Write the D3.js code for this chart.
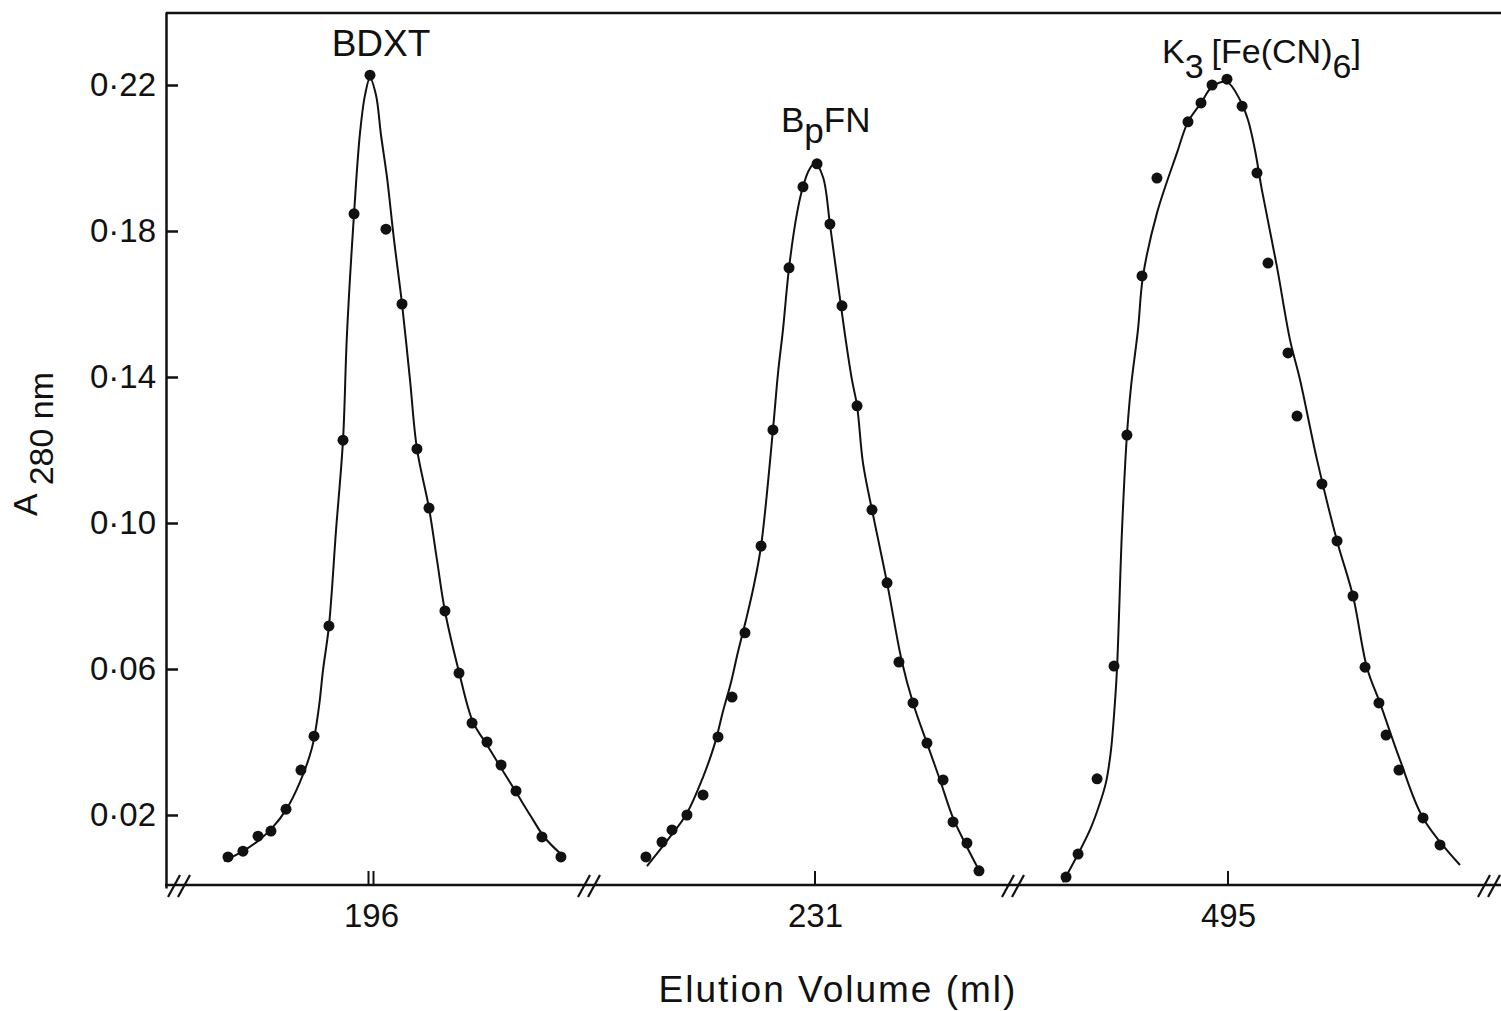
<!DOCTYPE html>
<html><head><meta charset="utf-8">
<script src="https://cdn.jsdelivr.net/npm/d3@7"></script>
<style>
body{margin:0;background:#fff;}
svg{display:block;}
text{fill:#111;}
.narrow{font-family:'Liberation Sans Narrow','Liberation Sans',Arial,sans-serif;}
.regular{font-family:'Liberation Sans',Arial,sans-serif;}
</style></head><body>
<svg id="chart" width="1501" height="1011"></svg>
<script>
// ---------------- data ----------------
const peakNames = ["BDXT", "BpFN", "K3[Fe(CN)6]"];
const peakVolumes = [196, 231, 495];           // x tick values (ml) of each broken-axis segment
const peakTickMarks = [2, 1, 1];               // number of tick strokes at each tick

const yTickValues = [0.02, 0.06, 0.10, 0.14, 0.18, 0.22];
const yTickLabels = ["0·02", "0·06", "0·10", "0·14", "0·18", "0·22"];

const xTitle = "Elution  Volume (ml)";
const yTitleMain = "A";
const yTitleSub = "280 nm";

// measured points [elution volume ml, A280]
const bdxtPoints = [[186.14,0.0085],[187.17,0.0101],[188.21,0.0142],[189.10,0.0156],[190.14,0.0216],[191.17,0.0323],[192.07,0.0416],[193.10,0.0718],[194.07,0.1227],[194.83,0.1847],[195.93,0.2227],[197.03,0.1805],[198.14,0.1600],[199.17,0.1203],[200.00,0.1041],[201.10,0.0759],[202.07,0.0589],[202.97,0.0452],[204.00,0.0400],[204.97,0.0337],[206.00,0.0266],[207.79,0.0140],[209.10,0.0085]];
const bpfnPoints = [[219.34,0.0085],[220.45,0.0126],[221.14,0.0159],[222.17,0.0200],[223.28,0.0255],[224.31,0.0414],[225.28,0.0523],[226.17,0.0699],[227.28,0.0937],[228.10,0.1255],[229.21,0.1699],[230.17,0.1921],[231.14,0.1984],[232.03,0.1819],[232.86,0.1595],[233.90,0.1321],[234.93,0.1036],[235.97,0.0836],[236.79,0.0619],[237.76,0.0507],[238.72,0.0397],[239.83,0.0296],[240.52,0.0181],[241.48,0.0123],[242.31,0.0047]];
const k3Points = [[483.83,0.0030],[484.66,0.0093],[485.97,0.0299],[487.14,0.0608],[488.03,0.1241],[489.07,0.1677],[490.10,0.1945],[492.24,0.2099],[493.14,0.2151],[493.90,0.2200],[494.93,0.2216],[495.97,0.2142],[497.00,0.1959],[497.76,0.1712],[499.14,0.1466],[499.76,0.1293],[501.48,0.1107],[502.52,0.0951],[503.62,0.0800],[504.45,0.0605],[505.41,0.0507],[505.90,0.0419],[506.79,0.0323],[508.45,0.0192],[509.62,0.0118]];

// hand-drawn smooth curves [ml, A280]
const bdxtCurve = [[185.86,0.0074],[187.17,0.0101],[188.21,0.0129],[189.17,0.0164],[190.14,0.0214],[191.10,0.0290],[191.93,0.0384],[192.41,0.0496],[192.69,0.0597],[193.10,0.0718],[193.59,0.0981],[194.07,0.1227],[194.34,0.1515],[194.83,0.1847],[195.24,0.2068],[195.59,0.2173],[195.93,0.2219],[196.34,0.2173],[196.69,0.2063],[197.10,0.1948],[197.59,0.1775],[198.14,0.1600],[198.69,0.1392],[199.17,0.1203],[200.00,0.1041],[200.55,0.0899],[201.10,0.0759],[202.07,0.0592],[203.03,0.0455],[204.00,0.0392],[204.97,0.0329],[206.00,0.0263],[206.97,0.0200],[208.00,0.0137],[209.24,0.0088]];
const bpfnCurve = [[219.41,0.0060],[221.00,0.0140],[222.17,0.0205],[223.28,0.0304],[224.10,0.0397],[224.66,0.0485],[225.21,0.0564],[225.69,0.0647],[226.24,0.0734],[226.79,0.0830],[227.28,0.0937],[228.10,0.1255],[228.45,0.1411],[228.79,0.1529],[229.21,0.1699],[229.76,0.1849],[230.17,0.1921],[230.59,0.1967],[231.00,0.1986],[231.55,0.1948],[232.03,0.1819],[232.52,0.1674],[233.07,0.1515],[233.55,0.1392],[233.90,0.1321],[234.31,0.1164],[234.93,0.1036],[235.97,0.0836],[237.00,0.0619],[237.76,0.0507],[238.72,0.0397],[239.62,0.0296],[240.52,0.0192],[241.41,0.0118],[242.31,0.0049]];
const k3Curve = [[483.62,0.0016],[484.66,0.0093],[485.48,0.0159],[486.17,0.0233],[486.59,0.0290],[486.93,0.0378],[487.14,0.0474],[487.34,0.0597],[487.69,0.0981],[488.03,0.1241],[488.31,0.1373],[488.79,0.1529],[489.14,0.1677],[490.10,0.1849],[491.48,0.2014],[492.24,0.2099],[493.14,0.2151],[493.90,0.2195],[494.93,0.2208],[495.83,0.2159],[496.38,0.2104],[496.86,0.2022],[497.34,0.1912],[498.38,0.1701],[499.28,0.1501],[499.97,0.1392],[501.14,0.1173],[502.52,0.0951],[503.62,0.0800],[504.59,0.0603],[505.48,0.0507],[506.86,0.0351],[508.45,0.0192],[511.00,0.0063]];

const seriesPoints = [bdxtPoints, bpfnPoints, k3Points];
const seriesCurves = [bdxtCurve, bpfnCurve, k3Curve];

// ---------------- layout ----------------
const ink = "#111";
const W = 1501;
const left = 166, topY = 13, baseY = 885;
const segCenterPx = [371, 815, 1228];
const halfSpanMl = 10, halfSpanPx = 145;
const breakPx = [168, 578, 1002, 1478];

const svg = d3.select("#chart");
const y = d3.scaleLinear().domain([0, 0.24]).range([888, 12]);
const xScales = peakVolumes.map((v, i) =>
  d3.scaleLinear().domain([v - halfSpanMl, v + halfSpanMl])
    .range([segCenterPx[i] - halfSpanPx, segCenterPx[i] + halfSpanPx]));

// frame: top line and bottom (broken) axis line
svg.append("line").attr("x1", left).attr("x2", W).attr("y1", topY).attr("y2", topY)
  .attr("stroke", ink).attr("stroke-width", 2.5);
svg.append("line").attr("x1", left - 1).attr("x2", W).attr("y1", baseY).attr("y2", baseY)
  .attr("stroke", ink).attr("stroke-width", 2.5);

// axis break marks
breakPx.forEach(bx => {
  [0, 10].forEach(off => {
    svg.append("line")
      .attr("x1", bx + off).attr("y1", baseY + 12)
      .attr("x2", bx + off + 12).attr("y2", baseY - 10)
      .attr("stroke", ink).attr("stroke-width", 2.2);
  });
});

// y axis
const yAxis = d3.axisLeft(y).tickValues(yTickValues)
  .tickFormat((d, i) => yTickLabels[i])
  .tickSizeInner(-12).tickSizeOuter(0).tickPadding(10);
const gy = svg.append("g").attr("transform", `translate(${left},0)`).call(yAxis);
gy.select(".domain").attr("stroke", ink).attr("stroke-width", 2.5);
gy.selectAll(".tick line").attr("stroke", ink).attr("stroke-width", 2.5);
gy.selectAll(".tick text").attr("class", "narrow").attr("font-size", 33).attr("fill", ink);

// x axes (one per segment)
peakVolumes.forEach((v, i) => {
  const ax = d3.axisBottom(xScales[i]).tickValues([v]).tickFormat(d3.format("d"))
    .tickSizeInner(0).tickSizeOuter(0).tickPadding(19);
  const g = svg.append("g").attr("transform", `translate(0,${baseY})`).call(ax);
  g.select(".domain").remove();
  g.selectAll(".tick line").remove();
  g.selectAll(".tick text").attr("class", "narrow").attr("font-size", 33).attr("fill", ink);
  const n = peakTickMarks[i];
  for (let k = 0; k < n; k++) {
    const off = (k - (n - 1) / 2) * 5;
    svg.append("line")
      .attr("x1", xScales[i](v) + off).attr("x2", xScales[i](v) + off)
      .attr("y1", baseY).attr("y2", baseY - 14)
      .attr("stroke", ink).attr("stroke-width", 2);
  }
});

// curves and points
const lineGen = (sc) => d3.line().x(d => sc(d[0])).y(d => y(d[1])).curve(d3.curveCatmullRom.alpha(0.5));
seriesCurves.forEach((c, i) => {
  svg.append("path").datum(c).attr("d", lineGen(xScales[i]))
    .attr("fill", "none").attr("stroke", ink).attr("stroke-width", 2);
});
seriesPoints.forEach((pts, i) => {
  svg.append("g").selectAll("circle").data(pts).join("circle")
    .attr("cx", d => xScales[i](d[0])).attr("cy", d => y(d[1])).attr("r", 5.5).attr("fill", ink);
});

// peak labels
svg.append("text").attr("class", "narrow").attr("font-size", 37)
  .attr("x", 381).attr("y", 56).attr("text-anchor", "middle").text(peakNames[0]);

const t2 = svg.append("text").attr("class", "narrow").attr("font-size", 35).attr("x", 781).attr("y", 132);
t2.append("tspan").text("B");
t2.append("tspan").attr("dy", 11).text("p");
t2.append("tspan").attr("dy", -11).text("FN");

const t3 = svg.append("text").attr("class", "narrow").attr("font-size", 34).attr("x", 1162).attr("y", 63);
t3.append("tspan").text("K");
t3.append("tspan").attr("dy", 15).text("3");
t3.append("tspan").attr("dy", -15).attr("dx", 8).text("[Fe(CN)");
t3.append("tspan").attr("dy", 15).text("6");
t3.append("tspan").attr("dy", -15).text("]");

// axis titles
svg.append("text").attr("class", "regular").attr("font-size", 37)
  .attr("x", 838).attr("y", 1002).attr("text-anchor", "middle")
  .style("letter-spacing", "2px").text(xTitle);

const yl = svg.append("text").attr("class", "regular").attr("font-size", 34)
  .attr("transform", "translate(37,444) rotate(-90)").attr("text-anchor", "middle");
yl.append("tspan").text(yTitleMain);
yl.append("tspan").attr("dy", 16).attr("dx", 8).text(yTitleSub);
</script>
</body></html>
